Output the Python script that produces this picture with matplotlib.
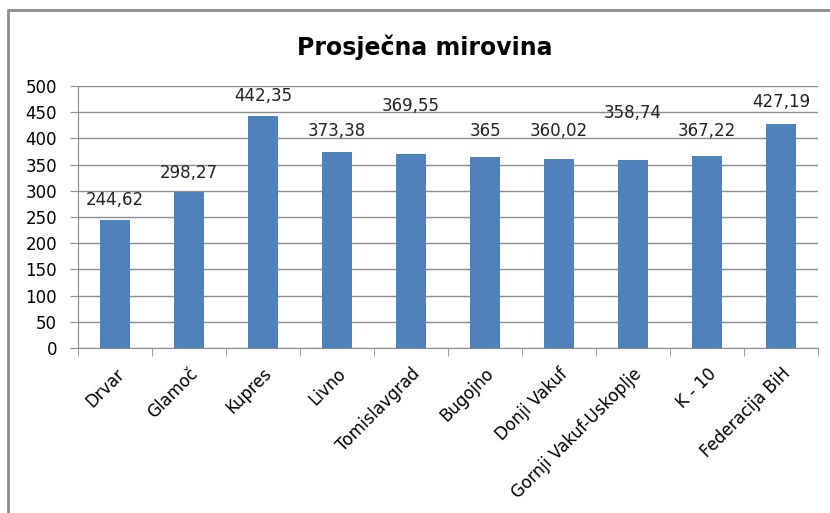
import matplotlib.pyplot as plt
from matplotlib.lines import Line2D
import numpy as np

categories = ['Drvar', 'Glamoč', 'Kupres', 'Livno', 'Tomislavgrad', 'Bugojno',
              'Donji Vakuf', 'Gornji Vakuf-Uskoplje', 'K - 10', 'Federacija BiH']
values = [244.62, 298.27, 442.35, 373.38, 369.55, 365, 360.02, 358.74, 367.22, 427.19]
labels = ['244,62', '298,27', '442,35', '373,38', '369,55', '365', '360,02', '358,74', '367,22', '427,19']
# data label heights (labels were moved by hand in the original)
label_y = [282, 334, 481, 414, 462, 414, 414, 448, 414, 469]

fig = plt.figure(figsize=(8.3, 5.13), dpi=100)
ax = fig.add_axes([78/830, 1 - 348/513, (818-78)/830, (348-86)/513])

x = np.arange(len(categories))
ax.bar(x, values, width=0.4, color='#4F81BD', zorder=3)
for xi, ly, lab in zip(x, label_y, labels):
    ax.text(xi, ly, lab, ha='center', va='center', fontsize=12, family='DejaVu Sans', color='#222222')

ax.set_xlim(-0.5, len(categories) - 0.5)
ax.set_ylim(0, 500)
ax.set_yticks(range(0, 501, 50))
ax.yaxis.grid(True, color='#8c8c8c', linewidth=1, zorder=0)
ax.tick_params(axis='y', length=6, color='#8c8c8c', labelsize=12, pad=9)
ax.set_xticks(x)
ax.set_xticklabels(categories, rotation=45, ha='right', rotation_mode='anchor', fontsize=12)
ax.tick_params(axis='x', length=0, pad=12)
ax.set_xticks(np.arange(-0.5, len(categories)), minor=True)
ax.tick_params(axis='x', which='minor', length=6, color='#8c8c8c')
for s in ['top', 'right']:
    ax.spines[s].set_visible(False)
for s in ['left', 'bottom']:
    ax.spines[s].set_color('#8c8c8c')

fig.text(425/830, 1 - 47/513, 'Prosječna mirovina', ha='center', va='center',
         fontsize=17, fontweight='bold')

# chart border
fig.add_artist(Line2D([8/830, 8/830, 1], [0, 1 - 10/513, 1 - 10/513],
                      transform=fig.transFigure, color='#8a8a8a', linewidth=2))

fig.savefig('out.png', dpi=100)
